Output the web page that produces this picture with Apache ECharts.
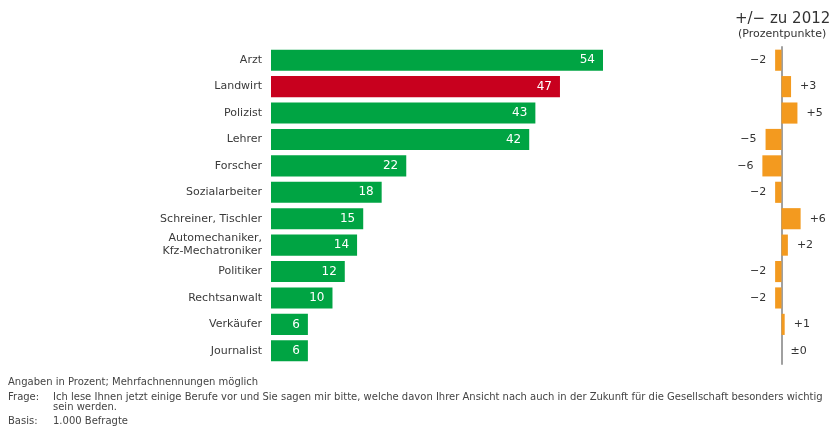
<!DOCTYPE html>
<html>
<head>
<meta charset="utf-8">
<script src="https://cdn.jsdelivr.net/npm/echarts@6/dist/echarts.min.js"></script>
<style>html,body{margin:0;padding:0;background:#fff;}#c{width:830px;height:436px;}</style>
</head>
<body>
<div id="c"></div>
<script>
const categories = ['Arzt','Landwirt','Polizist','Lehrer','Forscher','Sozialarbeiter','Schreiner, Tischler','Automechaniker,\nKfz-Mechatroniker','Politiker','Rechtsanwalt','Verkäufer','Journalist'];
const values = [54,47,43,42,22,18,15,14,12,10,6,6];
const changes = [-2,3,5,-5,-6,-2,6,2,-2,-2,1,0];
const changeLabels = ['−2','+3','+5','−5','−6','−2','+6','+2','−2','−2','+1','±0'];
const highlightCategory = 'Landwirt';
const titleText = '+/− zu 2012';
const subtitleText = '(Prozentpunkte)';
const footnotes = [
  {label:'', text:'Angaben in Prozent; Mehrfachnennungen möglich'},
  {label:'Frage:', text:'Ich lese Ihnen jetzt einige Berufe vor und Sie sagen mir bitte, welche davon Ihrer Ansicht nach auch in der Zukunft für die Gesellschaft besonders wichtig\nsein werden.'},
  {label:'Basis:', text:'1.000 Befragte'}
];

const GREEN = '#00a443', RED = '#c8001e', ORANGE = '#f39a1f';
const FONT = 'DejaVu Sans';

const chart = echarts.init(document.getElementById('c'), null, {renderer:'canvas'});

const mainData = values.map((v,i)=>({
  value:v,
  itemStyle:{color: categories[i]===highlightCategory ? RED : GREEN}
}));
const changeData = changes.map((v,i)=>({
  value:v,
  label:{position: v<0 ? 'left' : 'right'}
}));

const graphics = [];
const fy = [382, 397, 421];
const ffont = '10px "'+FONT+'"';
footnotes.forEach((f,i)=>{
  if(f.label){
    graphics.push({type:'text', left:8, top:fy[i]-5, style:{text:f.label, font:ffont, fill:'#444', lineHeight:10}});
    graphics.push({type:'text', left:53, top:fy[i]-5, style:{text:f.text, font:ffont, fill:'#444', lineHeight:10}});
  } else {
    graphics.push({type:'text', left:8, top:fy[i]-5, style:{text:f.text, font:ffont, fill:'#444', lineHeight:10}});
  }
});
graphics.push({type:'text', left:735, top:12, style:{text:titleText, font:'15px "'+FONT+'"', fill:'#333'}});
graphics.push({type:'text', left:738, top:29, style:{text:subtitleText, font:'11px "'+FONT+'"', fill:'#333'}});

chart.setOption({
  animation:false,
  backgroundColor:'#fff',
  textStyle:{fontFamily:FONT},
  grid:[
    {left:271, top:47, width:332, height:317},
    {left:756, top:47, width:51, height:317}
  ],
  xAxis:[
    {gridIndex:0, type:'value', min:0, max:54, show:false},
    {gridIndex:1, type:'value', min:-8, max:8, show:false}
  ],
  yAxis:[
    {gridIndex:0, type:'category', data:categories, inverse:true,
     axisLine:{show:false}, axisTick:{show:false},
     axisLabel:{margin:9, color:'#3a3a3a', fontSize:11, fontFamily:FONT, lineHeight:13, align:'right'}},
    {gridIndex:1, type:'category', data:categories, inverse:true,
     axisLine:{show:true, onZero:true, lineStyle:{color:'#a0a0a0', width:2}},
     axisTick:{show:false}, axisLabel:{show:false}}
  ],
  series:[
    {type:'bar', xAxisIndex:0, yAxisIndex:0, data:mainData, barCategoryGap:'20%',
     label:{show:true, position:'insideRight', distance:8, color:'#fff', fontSize:12, fontFamily:FONT}},
    {type:'bar', xAxisIndex:1, yAxisIndex:1, data:changeData, barCategoryGap:'20%', z:1,
     itemStyle:{color:ORANGE},
     label:{show:true, distance:9, color:'#333', fontSize:11, fontFamily:FONT,
       formatter:p=>changeLabels[p.dataIndex]}}
  ],
  graphic:graphics
});
</script>
</body>
</html>
